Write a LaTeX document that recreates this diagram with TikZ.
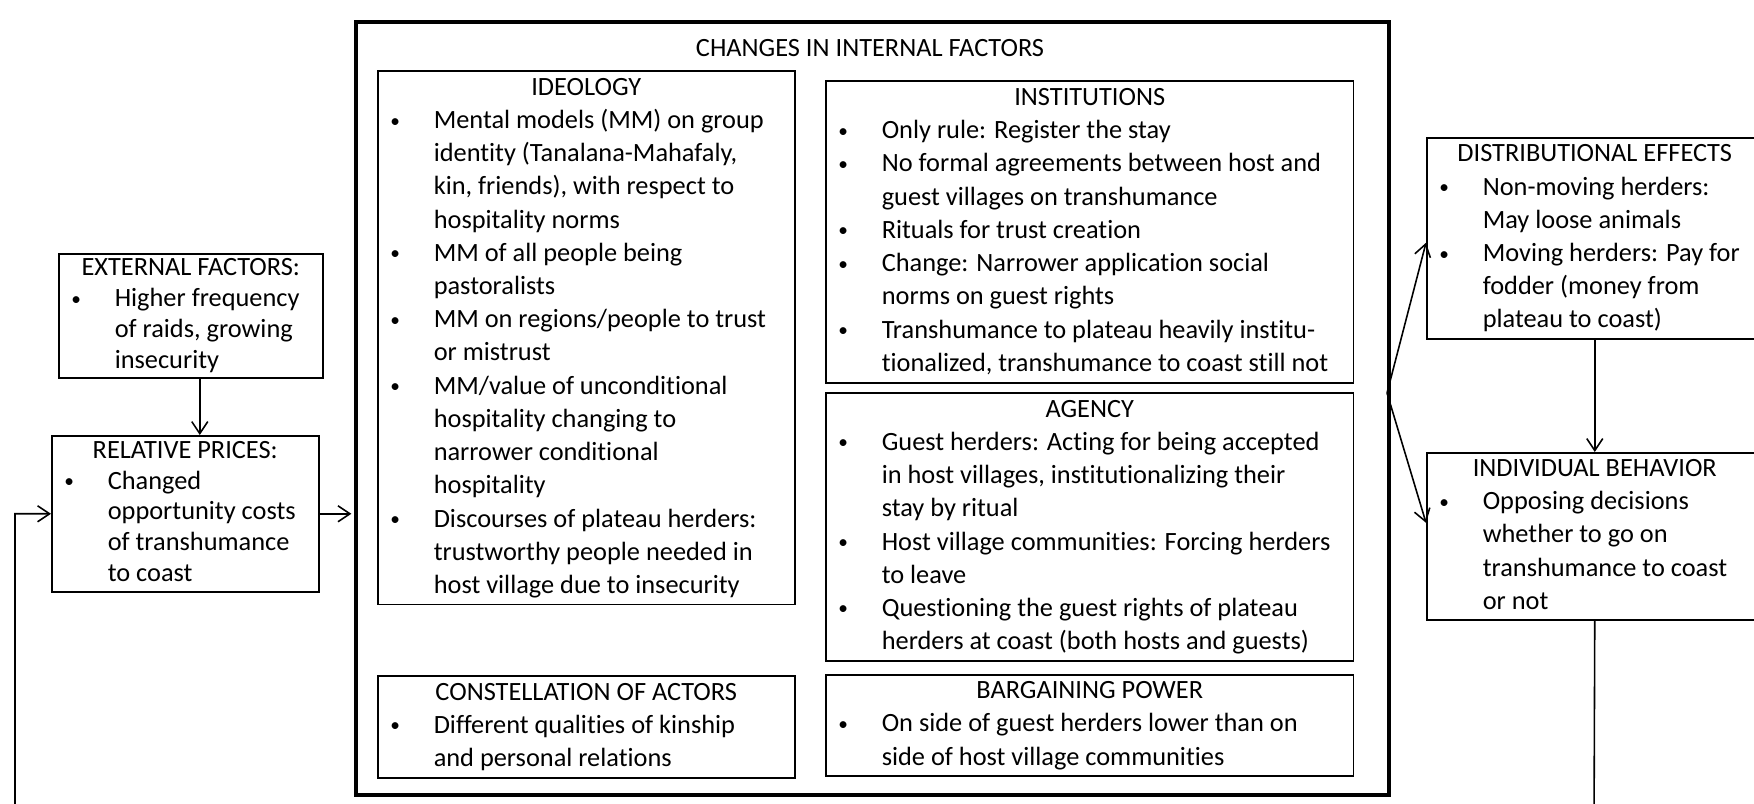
\documentclass[tikz,border=0pt]{standalone}
\usepackage{fontspec}
\setmainfont[Ligatures={NoCommon,NoContextual},Contextuals=NoAlternate]{Carlito}
\usetikzlibrary{arrows.meta}

% bullet cell and centred box heading
\newcommand{\bul}{\makebox[1.12cm][l]{\hspace*{0.25cm}\raisebox{0.03cm}{\fontsize{11}{11}\selectfont\textbullet}}}
\newcommand{\boxhead}[2]{\multicolumn{2}{@{}c@{}}{\makebox[#1][c]{#2}}\\}

\tikzset{
  factor/.style={draw, line width=0.9pt, inner sep=0pt, anchor=north west, font=\fontsize{15}{18.9}\selectfont},
  extfactor/.style={factor, font=\fontsize{15}{17.6}\selectfont},
  frame/.style={draw, line width=2.2pt, inner sep=0pt, anchor=north west},
  flow/.style={-{Straight Barb[length=2.4mm,width=3.2mm]}, line width=0.9pt},
}

\begin{document}
\begin{tikzpicture}[x=0.02cm,y=-0.02cm]
\useasboundingbox (0,0) rectangle (1754,804);
\clip (0,0) rectangle (1754,804);
\fill[white] (0,0) rectangle (1754,804);

% internal factors
\node[frame, minimum width=20.66cm, minimum height=15.46cm] (internal) at (354,20) {};
\node[font=\fontsize{15}{18.9}\selectfont] (internaltitle) at (870,48) {CHANGES IN INTERNAL FACTORS};

\node[factor, minimum width=8.34cm, minimum height=10.68cm] (ideology) at (377,70) {%
\begin{tabular}{@{}l@{}l@{}}
\boxhead{8.34cm}{IDEOLOGY}
\bul & Mental models (MM) on group\\
 & identity (Tanalana-Mahafaly,\\
 & kin, friends), with respect to\\
 & hospitality norms\\
\bul & MM of all people being\\
 & pastoralists\\
\bul & MM on regions/people to trust\\
 & or mistrust\\
\bul & MM/value of unconditional\\
 & hospitality changing to\\
 & narrower conditional\\
 & hospitality\\
\bul & Discourses of plateau herders:\\
 & trustworthy people needed in\\
 & host village due to insecurity
\end{tabular}};

\node[factor, minimum width=8.34cm, minimum height=2.04cm] (actors) at (377,675) {%
\begin{tabular}{@{}l@{}l@{}}
\boxhead{8.34cm}{CONSTELLATION OF ACTORS}
\bul & Different qualities of kinship\\
 & and personal relations
\end{tabular}};

\node[factor, minimum width=10.56cm, minimum height=6.04cm] (institutions) at (825,80) {%
\begin{tabular}{@{}l@{}l@{}}
\boxhead{10.56cm}{INSTITUTIONS}
\bul & Only rule: Register the stay\\
\bul & No formal agreements between host and\\
 & guest villages on transhumance\\
\bul & Rituals for trust creation\\
\bul & Change: Narrower application social\\
 & norms on guest rights\\
\bul & Transhumance to plateau heavily institu-\\
 & tionalized, transhumance to coast still not
\end{tabular}};

\node[factor, minimum width=10.56cm, minimum height=5.36cm] (agency) at (825,392) {%
\begin{tabular}{@{}l@{}l@{}}
\boxhead{10.56cm}{AGENCY}
\bul & Guest herders: Acting for being accepted\\
 & in host villages, institutionalizing their\\
 & stay by ritual\\
\bul & Host village communities: Forcing herders\\
 & to leave\\
\bul & Questioning the guest rights of plateau\\
 & herders at coast (both hosts and guests)
\end{tabular}};

\node[factor, minimum width=10.56cm, minimum height=2.02cm] (bargaining) at (825,674) {%
\begin{tabular}{@{}l@{}l@{}}
\boxhead{10.56cm}{BARGAINING POWER}
\bul & On side of guest herders lower than on\\
 & side of host village communities
\end{tabular}};

% left side
\node[extfactor, minimum width=5.28cm, minimum height=2.48cm] (ext) at (58,253) {%
\begin{tabular}{@{}l@{}l@{}}
\boxhead{5.28cm}{EXTERNAL FACTORS:}
\bul & Higher frequency\\
 & of raids, growing\\
 & insecurity
\end{tabular}};

\node[extfactor, minimum width=5.34cm, minimum height=3.12cm] (rel) at (51,435) {%
\begin{tabular}{@{}l@{}l@{}}
\boxhead{5.34cm}{RELATIVE PRICES:}
\bul & Changed\\
 & opportunity costs\\
 & of transhumance\\
 & to coast
\end{tabular}};

% right side
\node[factor, minimum width=6.72cm, minimum height=4.02cm] (distrib) at (1426,137) {%
\begin{tabular}{@{}l@{}l@{}}
\boxhead{6.72cm}{DISTRIBUTIONAL EFFECTS}
\bul & Non-moving herders:\\
 & May loose animals\\
\bul & Moving herders: Pay for\\
 & fodder (money from\\
 & plateau to coast)
\end{tabular}};

\node[factor, minimum width=6.72cm, minimum height=3.34cm] (ib) at (1426,452) {%
\begin{tabular}{@{}l@{}l@{}}
\boxhead{6.72cm}{INDIVIDUAL BEHAVIOR}
\bul & Opposing decisions\\
 & whether to go on\\
 & transhumance to coast\\
 & or not
\end{tabular}};

% connectors
\draw[flow] ([xshift=0.18cm]ext.south) -- ([xshift=0.18cm]ext.south |- rel.north);
\draw[flow, shorten >=1.5pt] (rel.east) -- (rel.east -| internal.west);
\coordinate (split) at (1387,393);
\draw[flow] (split) -- ([yshift=-0.09cm]distrib.west);
\draw[flow] (split) -- ([yshift=0.27cm]ib.west);
\draw[flow] (distrib.south) -- (ib.north);
\coordinate (loopright) at (1594,830);
\coordinate (loopleft) at (15,830);
\draw[flow] (ib.south) -- (loopright) -- (loopleft) |- (rel.west);
\end{tikzpicture}
\end{document}
